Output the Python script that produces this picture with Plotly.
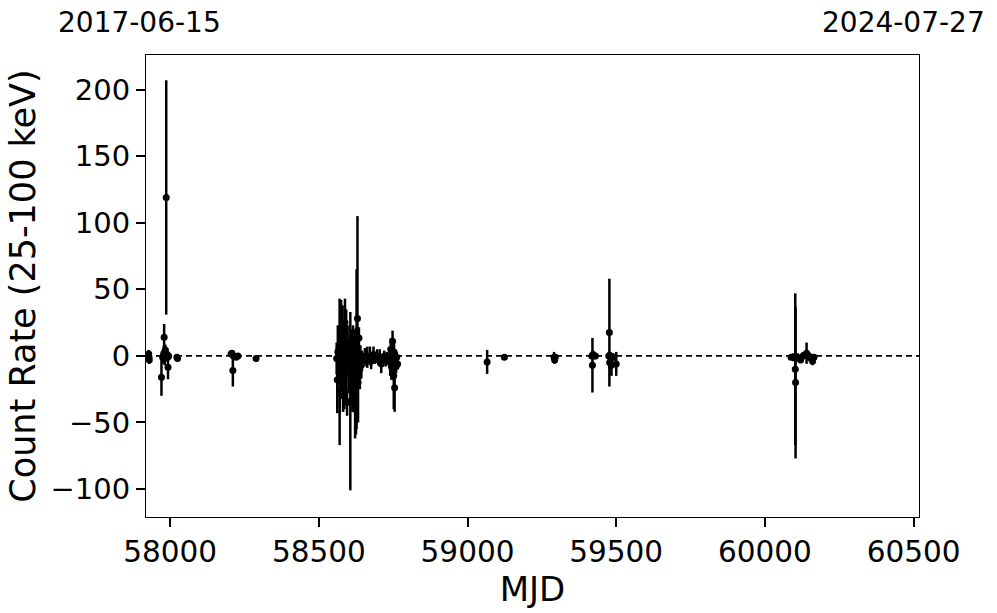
import plotly.graph_objects as go

# MJD, count rate (25-100 keV), 1-sigma error
mjd = [
    57928, 57929, 57930,
    57971, 57975, 57977, 57979, 57980, 57982, 57984, 57986, 57987, 57990, 57992, 57993, 57995,
    58023, 58025,
    58205, 58208, 58211, 58213, 58222, 58228, 58289,
    58560, 58562, 58564, 58568, 58570, 58571, 58573, 58575, 58577, 58580, 58582, 58584,
    58586, 58588, 58590, 58592, 58595, 58597, 58600, 58603, 58606, 58608, 58610, 58613,
    58615, 58618, 58620, 58622, 58625, 58627, 58630, 58632, 58633, 58635, 58638, 58640, 58643,
    58645, 58650, 58655, 58660, 58663, 58668, 58672, 58676, 58680, 58684, 58688, 58692,
    58696, 58700, 58705, 58710, 58715, 58720, 58725, 58730,
    58738, 58740, 58742, 58744, 58746, 58748, 58749, 58750, 58752, 58753, 58755, 58757,
    58760, 58762, 58765,
    59066, 59124,
    59291, 59293, 59295,
    59418, 59420, 59422, 59426, 59430,
    59475, 59477, 59478, 59481, 59484, 59490, 59500,
    60088, 60095, 60102, 60103, 60110, 60120, 60128, 60140, 60148, 60155, 60160, 60165,
]
rate = [
    1.5, -1, -3,
    -16, -1, 0, 2, 14, -2, 4.5, 0, 119, 1, -1, -8.5, 0,
    -1, -2,
    1.5, 2, -11, 0, -1, 0, -2,
    -2, -18, 3, 5, -12, -25, 0, 12, -5, 8, -30, 2,
    -15, 25, -3, 0, -35, 5, -8, 2, -34, -5, 1, -27,
    3, -10, 0, -40, -19, 5, 28, -20, 0, 13.5, -10, -2, -7,
    -1, -2, 0, -3, -1, -2, 0, -4, -1, 1, -2, -1,
    0, -3, -1, -6, -2, 0, -3, -1,
    -2, -5, 5, -8, 0, 11, -10, -3, -15, 3, -24, -5,
    -8, -1, -6,
    -4.5, -1,
    -1, -3, -1,
    0, -7, 1, 0, 0,
    0, 17.5, -5, 0, -7, -1, -6,
    -1, -1, -10, -20, -1, -3, 0, 2, 0, -2, -4, -1,
]
err = [
    3, 4, 3,
    14, 5, 4, 6, 10, 5, 4, 3, 88, 4, 3, 9, 3,
    2, 2,
    2, 2, 12, 3, 2, 2, 2,
    12, 25, 20, 15, 55, 18, 10, 30, 20, 30, 12, 22,
    25, 18, 14, 35, 10, 18, 20, 12, 67, 25, 15, 15,
    20, 30, 12, 22, 40, 60, 77, 30, 20, 8, 15, 10, 10,
    5, 4, 6, 5, 8, 4, 7, 6, 3, 6, 4, 3,
    5, 4, 6, 7, 3, 4, 5, 4,
    6, 10, 8, 10, 12, 8, 8, 15, 25, 8, 18, 6,
    5, 4, 4,
    9, 1.5,
    4, 3, 2,
    2, 20.5, 3, 2, 1.5,
    3, 40.5, 5, 3, 8, 3, 9,
    2, 3, 57, 57, 3, 2, 3, 8, 3, 2, 3, 2,
]

x_ticks = [58000, 58500, 59000, 59500, 60000, 60500]
y_ticks = [-100, -50, 0, 50, 100, 150, 200]
y_ticklabels = ["\u2212100", "\u221250", "0", "50", "100", "150", "200"]
start_label = "2017-06-15"
end_label = "2024-07-27"
x_range = [57919, 60518]
y_range = [-121, 226]

FONT = "DejaVu Sans"

fig = go.Figure()
fig.add_trace(go.Scatter(
    x=mjd, y=rate, mode="markers",
    marker=dict(color="black", size=7),
    error_y=dict(type="data", array=err, visible=True, color="black",
                 thickness=2.5, width=0),
    showlegend=False,
))

fig.add_shape(type="line", xref="paper", yref="y", x0=0, x1=1, y0=0, y1=0,
              line=dict(color="black", width=1.7, dash="6px,4px"), layer="below")

fig.update_layout(
    width=997, height=613,
    margin=dict(l=146, r=78, t=55, b=96),
    paper_bgcolor="white", plot_bgcolor="white",
    font=dict(family=FONT, color="black"),
    xaxis=dict(
        range=x_range, tickvals=x_ticks, ticktext=[str(t) for t in x_ticks],
        showgrid=False, zeroline=False, showline=True, linecolor="black",
        linewidth=1, mirror=True, ticks="outside", ticklen=9, tickwidth=2,
        tickcolor="black", tickfont=dict(size=29.5, family=FONT), automargin=False,
        title=dict(text="MJD", font=dict(size=34, family=FONT), standoff=1),
    ),
    yaxis=dict(
        range=y_range, tickvals=y_ticks, ticktext=y_ticklabels,
        showgrid=False, zeroline=False, showline=True, linecolor="black",
        linewidth=1, mirror=True, ticks="outside", ticklen=9, tickwidth=2,
        tickcolor="black", tickfont=dict(size=29, family=FONT), automargin=False,
        title=dict(text="Count Rate (25-100 keV)", font=dict(size=35, family=FONT),
                   standoff=4),
    ),
    annotations=[
        dict(text=start_label, xref="paper", yref="paper", x=-0.1164, y=1.0714,
             xanchor="left", yanchor="middle", showarrow=False,
             font=dict(size=28, family=FONT)),
        dict(text=end_label, xref="paper", yref="paper", x=1.088, y=1.0714,
             xanchor="right", yanchor="middle", showarrow=False,
             font=dict(size=28, family=FONT)),
    ],
)

fig.write_html("out.html", config={"displayModeBar": False},
               post_script="document.body.style.margin='0px';document.body.style.overflow='hidden';")
